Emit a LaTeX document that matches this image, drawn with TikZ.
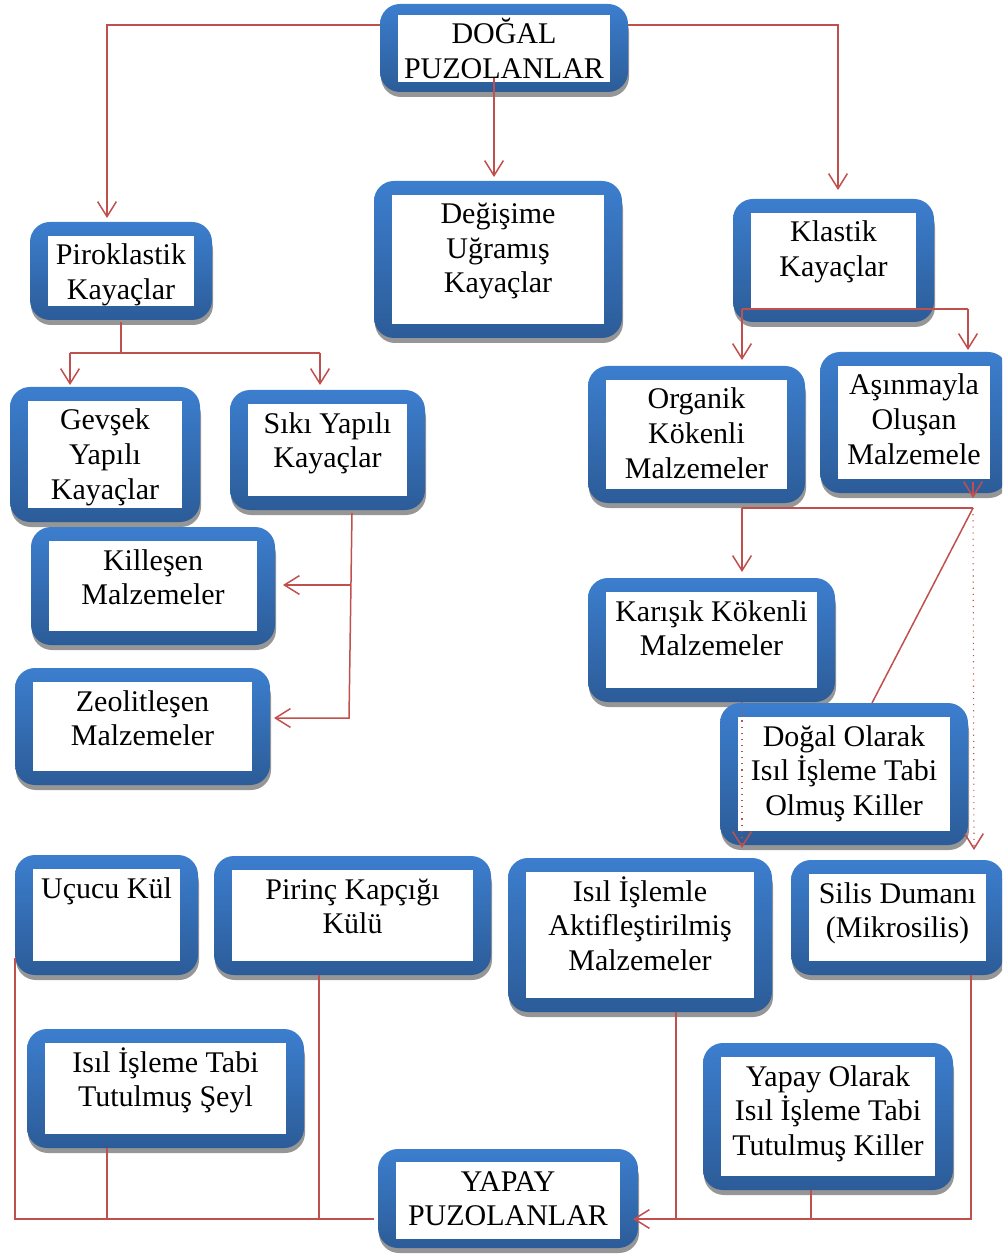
\documentclass[tikz,border=0pt]{standalone}
\usepackage{fontspec}
\setmainfont{Liberation Serif}
\usetikzlibrary{arrows.meta}
\definecolor{pzblueT}{RGB}{60,126,206}
\definecolor{pzblueB}{RGB}{44,92,152}
\definecolor{pzred}{RGB}{192,80,77}
\definecolor{pzshadow}{RGB}{150,150,150}
\newcommand\pzfont{\fontsize{12pt}{13.8pt}\selectfont}
\tikzset{
  pzouter/.style={rectangle, rounded corners=8pt, top color=pzblueT, bottom color=pzblueB, draw=none, inner sep=0pt},
  pzinner/.style={rectangle, fill=white, draw=none, inner sep=0pt},
  pztext/.style={anchor=north, align=center, inner sep=0pt, font=\pzfont},
  conn/.style={draw=pzred, line width=0.6pt},
  arr/.style={conn, -{Straight Barb[length=6pt,width=7.5pt]}},
  dotarr/.style={draw=pzred, line width=0.45pt, dotted, -{Straight Barb[length=6pt,width=7.5pt,line width=0.6pt]}},
}
% [top inset/bottom inset], name, x1, y1, x2, y2, text
\newcommand\pzbox[7][14/14]{%
  \pgfkeys{/pzins/.code args={##1/##2}{\def\pzti{##1}\def\pzbi{##2}}}%
  \pgfkeys{/pzins=#1}%
  \fill[pzshadow, rounded corners=8pt] ({#3+1},{#4+8}) rectangle ({#5+1},{#6+5});
  \node[pzouter, minimum width={(#5-#3)*0.4pt}, minimum height={(#6-#4)*0.4pt}] (#2) at ({(#3+#5)/2},{(#4+#6)/2}) {};
  \node[pzinner, minimum width={(#5-#3-36)*0.4pt}, minimum height={(#6-#4-\pzti-\pzbi)*0.4pt}] (#2-in) at ({(#3+#5)/2},{(#4+\pzti+#6-\pzbi)/2}) {};
  \node[pztext] (#2-t) at ([yshift=-0.6pt]#2-in.north) {\rule{0pt}{11pt}#7};
}
\begin{document}
\begin{tikzpicture}[x=0.4pt, y=-0.4pt]
\useasboundingbox (0,0) rectangle (1002,1257);
\clip (0,0) rectangle (1002,1257);

\pzbox[11/10]{dogal}{380}{4}{628}{92}{DOĞAL\\PUZOLANLAR}
\pzbox{pirok}{30}{222}{212}{320}{Piroklastik\\Kayaçlar}
\pzbox{degis}{374}{181}{622}{338}{Değişime\\Uğramış\\Kayaçlar}
\pzbox{klast}{733}{199}{934}{322}{Klastik\\Kayaçlar}
\pzbox{gevsek}{10}{387}{200}{522}{Gevşek\\Yapılı\\Kayaçlar}
\pzbox{siki}{230}{390}{425}{510}{Sıkı Yapılı\\Kayaçlar}
\pzbox{killes}{31}{527}{275}{645}{Killeşen\\Malzemeler}
\pzbox{zeol}{15}{668}{270}{785}{Zeolitleşen\\Malzemeler}
\pzbox{organik}{588}{366}{805}{503}{Organik\\Kökenli\\Malzemeler}
\pzbox{asin}{820}{352}{1008}{493}{Aşınmayla\\Oluşan\\Malzemele}
\pzbox{karisik}{588}{578}{835}{702}{Karışık Kökenli\\Malzemeler}
\pzbox{dogalk}{720}{703}{968}{845}{Doğal Olarak\\Isıl İşleme Tabi\\Olmuş Killer}
\pzbox{ucucu}{15}{855}{198}{975}{Uçucu Kül}
\pzbox{pirinc}{214}{856}{491}{975}{Pirinç Kapçığı\\Külü}
\pzbox{isil}{508}{858}{772}{1012}{Isıl İşlemle\\Aktifleştirilmiş\\Malzemeler}
\pzbox{silis}{791}{860}{1004}{975}{Silis Dumanı\\(Mikrosilis)}
\pzbox{seyl}{27}{1029}{304}{1148}{Isıl İşleme Tabi\\Tutulmuş Şeyl}
\pzbox{yapayk}{703}{1043}{953}{1190}{Yapay Olarak\\Isıl İşleme Tabi\\Tutulmuş Killer}
\pzbox[13/9]{yapay}{378}{1149}{638}{1248}{YAPAY\\PUZOLANLAR}

% named connection points
\coordinate (d-l) at (380,25);
\coordinate (d-lc) at (107,25);
\coordinate (d-lt) at (107,218);
\coordinate (d-r) at (628,25);
\coordinate (d-rc) at (838,25);
\coordinate (d-rt) at (838,190);
\coordinate (d-m) at (494,78);
\coordinate (d-mt) at (494,177);

\coordinate (p-s) at (121,322);
\coordinate (p-j) at (121,353);
\coordinate (p-l) at (70,353);
\coordinate (p-r) at (320,353);
\coordinate (p-lt) at (70,385);
\coordinate (p-rt) at (320,385);

\coordinate (s-s) at (352,513);
\coordinate (s-j1) at (350,585);
\coordinate (s-j2) at (349,718);
\coordinate (s-t1) at (283,585);
\coordinate (s-t2) at (274,718);

\coordinate (k-l) at (742,309);
\coordinate (k-r) at (968,309);
\coordinate (k-lt) at (742,360);
\coordinate (k-rt) at (968,350);

\coordinate (o-j) at (742,508);
\coordinate (o-r) at (973,508);
\coordinate (o-t) at (742,572);
\coordinate (a-s) at (973,482);
\coordinate (a-t) at (973,498);
\coordinate (dk-n) at (872,703);
\coordinate (sd-t) at (974,850);
\coordinate (kr-s) at (742,702);
\coordinate (kr-t) at (742,848);

\coordinate (u-w) at (15,958);
\coordinate (b-l) at (15,1219);
\coordinate (b-m) at (374,1219);
\coordinate (sy-s) at (107,1148);
\coordinate (sy-b) at (107,1219);
\coordinate (pr-s) at (319,975);
\coordinate (pr-b) at (319,1219);

\coordinate (si-s) at (971,975);
\coordinate (b-r) at (971,1219);
\coordinate (b-t) at (633,1219);
\coordinate (is-s) at (676,1012);
\coordinate (is-b) at (676,1219);
\coordinate (yk-s) at (811,1190);
\coordinate (yk-b) at (811,1219);

% connectors
\draw[arr] (d-l) -- (d-lc) -- (d-lt);
\draw[arr] (d-r) -- (d-rc) -- (d-rt);
\draw[arr] (d-m) -- (d-mt);

\draw[conn] (p-s) -- (p-j);
\draw[conn] (p-l) -- (p-r);
\draw[arr] (p-l) -- (p-lt);
\draw[arr] (p-r) -- (p-rt);

\draw[arr] (s-s) -- (s-j2) -- (s-t2);
\draw[arr] (s-j1) -- (s-t1);

\draw[conn] (k-l) -- (k-r);
\draw[arr] (k-l) -- (k-lt);
\draw[arr] (k-r) -- (k-rt);

\draw[conn] (o-j) -- (o-r);
\draw[arr] (o-j) -- (o-t);
\draw[arr] (a-s) -- (a-t);
\draw[conn] (dk-n) -- (o-r);
\draw[dotarr] (o-r) -- (sd-t);
\draw[dotarr] (kr-s) -- (kr-t);

\draw[conn] (u-w) -- (b-l) -- (b-m);
\draw[conn] (sy-s) -- (sy-b);
\draw[conn] (pr-s) -- (pr-b);

\draw[arr] (si-s) -- (b-r) -- (b-t);
\draw[conn] (is-s) -- (is-b);
\draw[conn] (yk-s) -- (yk-b);
\end{tikzpicture}
\end{document}
